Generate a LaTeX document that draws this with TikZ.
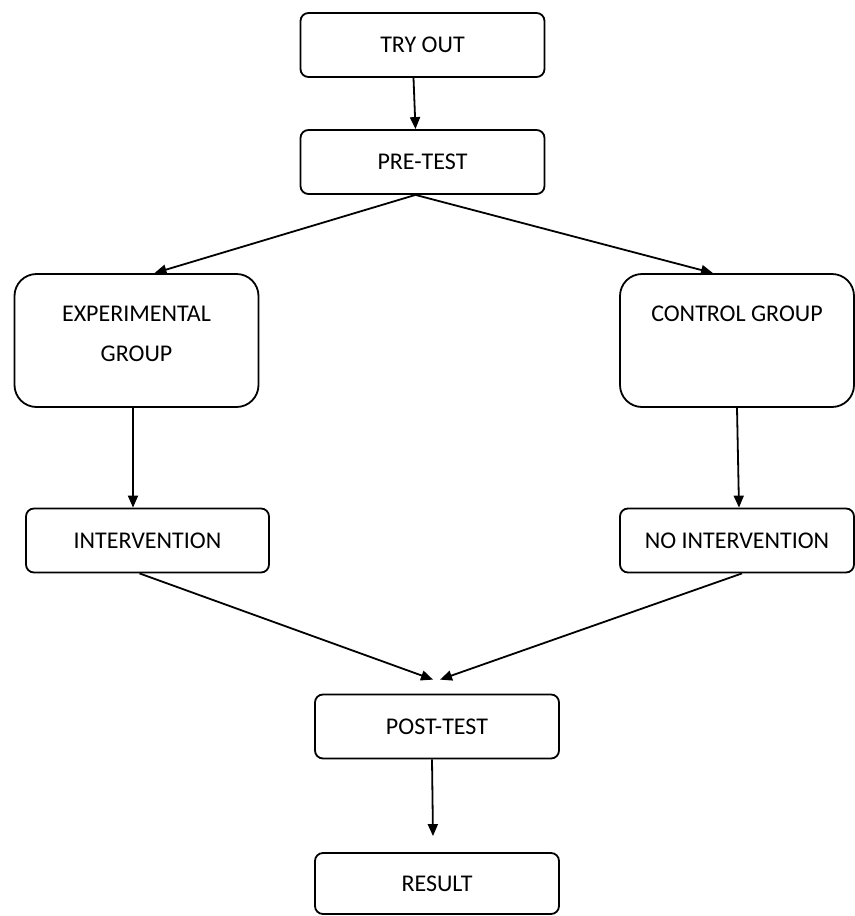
\documentclass[tikz,border=0pt]{standalone}
\usepackage{fontspec}
\setmainfont{Carlito}
\usetikzlibrary{arrows.meta,positioning}

\begin{document}
\begin{tikzpicture}[
  x=0.5pt, y=-0.5pt,
  box/.style={rounded corners=4pt, draw, line width=0.9pt, align=center,
    font=\fontsize{12}{20}\selectfont, minimum width=122pt, minimum height=32pt, inner sep=2pt},
  bigbox/.style={box, rounded corners=11pt, minimum height=66.5pt},
  arrow/.style={line width=0.9pt, -{Triangle[length=6pt,width=5pt]}}
]
\useasboundingbox (0,0) rectangle (855,916);

\node[box] (try) at (422.5,45) {TRY OUT};
\node[box] (pre) at (422.5,162) {PRE-TEST};
\node[bigbox, text height=28pt, text depth=7.5pt] (exp) at (136.5,340.5) {EXPERIMENTAL\\GROUP};
\node[bigbox, minimum width=117pt, text height=8pt, text depth=27.5pt] (ctrl) at (737,340.5) {CONTROL GROUP};
\node[box, minimum width=121.5pt] (int) at (147.5,540.5) {INTERVENTION};
\node[box, minimum width=117pt] (noint) at (737,540.5) {NO INTERVENTION};
\node[box] (post) at (437,726.5) {POST-TEST};
\node[box, minimum height=30.5pt] (res) at (437,883.5) {RESULT};

\draw[arrow] ([xshift=-4.5pt]try.south) -- ([xshift=-3.5pt]pre.north);
\draw[arrow] ([xshift=-3.5pt]pre.south) -- ([xshift=9pt]exp.north);
\draw[arrow] ([xshift=-3.5pt]pre.south) -- ([xshift=-12pt]ctrl.north);
\draw[arrow] ([xshift=-1.75pt]exp.south) -- ([xshift=-7.25pt]int.north);
\draw[arrow] (ctrl.south) -- ([xshift=1pt]noint.north);
\draw[arrow] ([xshift=-4pt]int.south) -- ([xshift=-2pt,yshift=7pt]post.north);
\draw[arrow] ([xshift=2.5pt]noint.south) -- ([xshift=1.5pt,yshift=7pt]post.north);
\draw[arrow] ([xshift=-2.5pt]post.south) -- ([xshift=-2pt,yshift=8pt]res.north);

\end{tikzpicture}
\end{document}
